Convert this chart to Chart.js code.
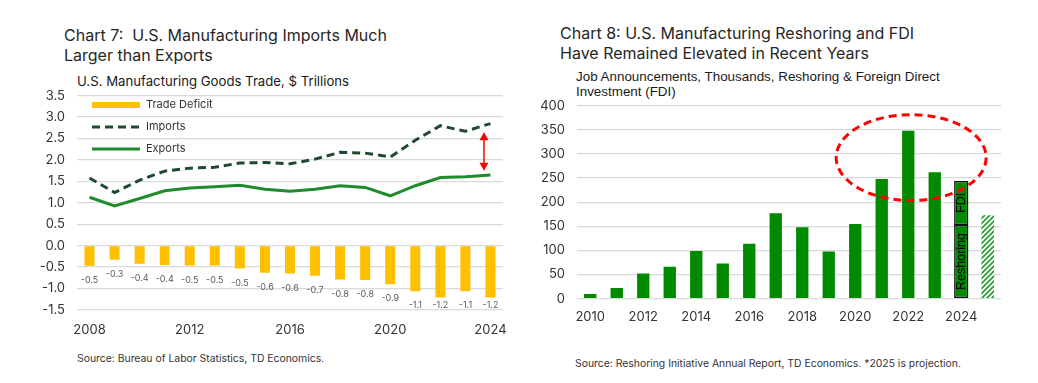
<!DOCTYPE html>
<html><head><meta charset="utf-8">
<script src="https://cdn.jsdelivr.net/npm/chart.js@4.4.1/dist/chart.umd.min.js"></script>
<style>
body{margin:0;background:#fff;width:1038px;height:383px;position:relative;overflow:hidden;font-family:Inter,"Open Sans",sans-serif;color:#222}
.t{position:absolute;font-size:16px;line-height:20px;white-space:nowrap;color:#262626}
.s{position:absolute;font-size:13.2px;white-space:nowrap;color:#1a1a1a}
.src{position:absolute;font-size:10.4px;white-space:nowrap;color:#333}
canvas{position:absolute}
</style></head><body>
<div class="t" style="left:64px;top:25px">Chart 7:&nbsp; U.S. Manufacturing Imports Much<br>Larger than Exports</div>
<div class="s" style="left:77px;top:73px">U.S. Manufacturing Goods Trade, $ Trillions</div>
<div class="src" style="left:77px;top:352px">Source: Bureau of Labor Statistics, TD Economics.</div>
<div class="t" style="left:560px;top:23px">Chart 8: U.S. Manufacturing Reshoring and FDI<br>Have Remained Elevated in Recent Years</div>
<div class="s" style="left:576px;top:69px;font-family:'Liberation Sans',Arial,sans-serif;font-size:13.4px;line-height:15px">Job Announcements, Thousands, Reshoring &amp; Foreign Direct<br>Investment (FDI)</div>
<div class="src" style="left:575px;top:357px">Source: Reshoring Initiative Annual Report, TD Economics. *2025 is projection.</div>
<canvas id="c7" width="520" height="255" style="left:0;top:85px"></canvas>
<canvas id="c8" width="518" height="245" style="left:520px;top:85px"></canvas>
<script>
// ---- Chart 7 data ----
const years7 = ['2008','2009','2010','2011','2012','2013','2014','2015','2016','2017','2018','2019','2020','2021','2022','2023','2024'];
const shownYears7 = ['2008','2012','2016','2020','2024'];
const imports7 = [1.58,1.24,1.53,1.74,1.81,1.83,1.93,1.94,1.91,2.02,2.18,2.16,2.07,2.46,2.80,2.67,2.85];
const exports7 = [1.13,0.93,1.10,1.28,1.345,1.375,1.41,1.315,1.27,1.32,1.40,1.36,1.165,1.40,1.59,1.61,1.65];
const deficit7 = [-0.47,-0.33,-0.42,-0.45,-0.46,-0.46,-0.53,-0.63,-0.65,-0.70,-0.79,-0.80,-0.90,-1.06,-1.21,-1.06,-1.21];
const deficitLabels7 = ['-0.5','-0.3','-0.4','-0.4','-0.5','-0.5','-0.5','-0.6','-0.6','-0.7','-0.8','-0.8','-0.9','-1.1','-1.2','-1.1','-1.2'];
const gapArrow7 = {index: 15.74, from: 1.75, to: 2.65};

// ---- Chart 8 data ----
const years8 = ['2010','2011','2012','2013','2014','2015','2016','2017','2018','2019','2020','2021','2022','2023','2024','2025'];
const shownYears8 = ['2010','2012','2014','2016','2018','2020','2022','2024'];
const jobs8 = [10,22,52,66,99,73,114,177,148,98,155,248,348,262,null,null];
const reshoring8 = [null,null,null,null,null,null,null,null,null,null,null,null,null,null,153,null];
const fdi8 = [null,null,null,null,null,null,null,null,null,null,null,null,null,null,91,null];
const projection8 = [null,null,null,null,null,null,null,null,null,null,null,null,null,null,null,173];
const highlight8 = {index: 12.11, value: 292.5, rIndex: 2.83, rValue: 89};

const TICK_COLOR = '#333';
const GRID = '#d9d9d9';
const FONT = 'Inter';

function fitArea(chart, target){
  for(let k=0;k<4;k++){
    const a = chart.chartArea;
    const p = Object.assign({}, chart.config.options.layout.padding);
    p.top += target.top - a.top;
    p.left += target.left - a.left;
    p.right += a.right - target.right;
    p.bottom += a.bottom - target.bottom;
    chart.config.options.layout.padding = p;
    chart.update();
  }
}

const legend7 = {id:'legend7', afterDraw(chart){
  const c = chart.ctx; const oy = 85;
  c.save();
  c.font = '11px '+FONT; c.textBaseline = 'middle';
  c.fillStyle = '#FFC000'; c.fillRect(92, 102-oy, 48, 6);
  c.fillStyle = '#333'; c.fillText('Trade Deficit', 146, 105-oy);
  c.strokeStyle = '#1f4a2e'; c.lineWidth = 3; c.setLineDash([8,5]);
  c.beginPath(); c.moveTo(92,127-oy); c.lineTo(140,127-oy); c.stroke();
  c.fillText('Imports', 146, 127-oy);
  c.strokeStyle = '#1e8c2c'; c.setLineDash([]);
  c.beginPath(); c.moveTo(92,149-oy); c.lineTo(140,149-oy); c.stroke();
  c.fillText('Exports', 146, 149-oy);
  c.restore();
}};
const barLabels7 = {id:'barLabels7', afterDatasetsDraw(chart){
  const c = chart.ctx; const meta = chart.getDatasetMeta(0);
  c.save(); c.font = '9px '+FONT; c.fillStyle = '#595959'; c.textAlign='center'; c.textBaseline='middle';
  meta.data.forEach((el,i)=>{ c.fillText(deficitLabels7[i], el.x, Math.min(el.y+14.5, chart.chartArea.bottom-5)); });
  c.restore();
}};
const arrow7 = {id:'arrow7', afterDatasetsDraw(chart){
  const c = chart.ctx; const x = chart.scales.x.getPixelForValue(gapArrow7.index);
  const y1 = chart.scales.y.getPixelForValue(gapArrow7.to), y2 = chart.scales.y.getPixelForValue(gapArrow7.from);
  c.save(); c.strokeStyle = '#ff0000'; c.fillStyle = '#ff0000'; c.lineWidth = 1.5;
  c.beginPath(); c.moveTo(x,y1+6); c.lineTo(x,y2-6); c.stroke();
  c.beginPath(); c.moveTo(x,y1); c.lineTo(x-4.5,y1+8); c.lineTo(x+4.5,y1+8); c.closePath(); c.fill();
  c.beginPath(); c.moveTo(x,y2); c.lineTo(x-4.5,y2-8); c.lineTo(x+4.5,y2-8); c.closePath(); c.fill();
  c.restore();
}};

const chart7 = new Chart(document.getElementById('c7'), {
  data: { labels: years7, datasets: [
    {type:'bar', label:'Trade Deficit', data: deficit7, backgroundColor:'#FFC000', barPercentage:0.5, categoryPercentage:0.8, order:3},
    {type:'line', label:'Imports', data: imports7, borderColor:'#1f4a2e', borderWidth:3, borderDash:[8,5], pointRadius:0, fill:false, tension:0, order:1},
    {type:'line', label:'Exports', data: exports7, borderColor:'#1e8c2c', borderWidth:3, pointRadius:0, fill:false, tension:0, order:2}
  ]},
  options: {
    responsive:false, animation:false, devicePixelRatio:1,
    layout:{padding:{top:10.7, right:17, left:0, bottom:0}},
    plugins:{legend:{display:false}, tooltip:{enabled:false}},
    scales:{
      x:{offset:true, grid:{display:false, drawTicks:false}, border:{display:false},
         ticks:{autoSkip:false, maxRotation:0, padding:12, color:TICK_COLOR, font:{family:FONT,size:13},
           callback:function(v){ const l=this.getLabelForValue(v); return shownYears7.includes(l)?l:''; }}},
      y:{min:-1.5, max:3.5, grid:{color:GRID, drawTicks:false, lineWidth:1.3}, border:{display:false},
         ticks:{stepSize:0.5, padding:12, color:TICK_COLOR, font:{family:FONT,size:13}, callback:v=>Number(v).toFixed(1)},
         afterFit:s=>{s.width=77; s.paddingTop=0; s.paddingBottom=0;}}
    }
  },
  plugins:[legend7, barLabels7, arrow7]
});
fitArea(chart7, {top:10.7, bottom:225, left:77, right:503});

function hatch(){
  const cv = document.createElement('canvas'); cv.width = 5; cv.height = 5;
  const x = cv.getContext('2d');
  x.fillStyle='#fff'; x.fillRect(0,0,5,5);
  x.strokeStyle='#2f9e35'; x.lineWidth=1.8;
  x.beginPath(); x.moveTo(-1,6); x.lineTo(6,-1); x.moveTo(-3.5,3.5); x.lineTo(3.5,-3.5); x.moveTo(1.5,8.5); x.lineTo(8.5,1.5); x.stroke();
  return x.createPattern(cv,'repeat');
}
const segLabels8 = {id:'segLabels8', afterDatasetsDraw(chart){
  const c = chart.ctx;
  c.save(); c.font = '12.5px "Liberation Sans", Arial'; c.fillStyle='#000'; c.textAlign='center'; c.textBaseline='middle';
  [[1,'Reshoring'],[2,'FDI']].forEach(([di,txt])=>{
    const el = chart.getDatasetMeta(di).data[14];
    if(!el) return;
    const cy = (el.y + el.base)/2;
    c.save(); c.translate(el.x, cy); c.rotate(-Math.PI/2); c.fillText(txt,0,0); c.restore();
  });
  c.restore();
}};
const ellipse8 = {id:'ellipse8', afterDatasetsDraw(chart){
  const c = chart.ctx, xs = chart.scales.x, ys = chart.scales.y;
  const cx = xs.getPixelForValue(highlight8.index), cy = ys.getPixelForValue(highlight8.value);
  const rx = xs.getPixelForValue(highlight8.index+highlight8.rIndex)-cx;
  const ry = cy - ys.getPixelForValue(highlight8.value+highlight8.rValue);
  c.save(); c.strokeStyle='#ff0000'; c.lineWidth=3; c.setLineDash([8,5]);
  c.beginPath(); c.ellipse(cx,cy,rx,ry,0,0,Math.PI*2); c.stroke(); c.restore();
}};

const chart8 = new Chart(document.getElementById('c8'), {
  type:'bar',
  data:{ labels: years8, datasets:[
    {label:'Jobs', data: jobs8, backgroundColor:'#008a00', barPercentage:0.93, categoryPercentage:0.5},
    {label:'Reshoring', data: reshoring8, backgroundColor:'#008a00', borderColor:'#111', borderWidth:1.5, borderSkipped:false, barPercentage:1.08, categoryPercentage:0.5},
    {label:'FDI', data: fdi8, backgroundColor:'#008a00', borderColor:'#111', borderWidth:1.5, borderSkipped:false, barPercentage:1.08, categoryPercentage:0.5},
    {label:'2025 Projection', data: projection8, backgroundColor: hatch(), barPercentage:0.95, categoryPercentage:0.5}
  ]},
  options:{
    responsive:false, animation:false, devicePixelRatio:1,
    layout:{padding:{top:20.7, right:37, left:0, bottom:0}},
    plugins:{legend:{display:false}, tooltip:{enabled:false}},
    scales:{
      x:{stacked:true, offset:true, grid:{display:false, drawTicks:false}, border:{display:false},
         ticks:{autoSkip:false, maxRotation:0, padding:11, color:TICK_COLOR, font:{family:FONT,size:13},
           callback:function(v){ const l=this.getLabelForValue(v); return shownYears8.includes(l)?l:''; }}},
      y:{stacked:true, min:0, max:400, grid:{color:GRID, drawTicks:false, lineWidth:1.3}, border:{display:false},
         ticks:{stepSize:50, padding:12, color:TICK_COLOR, font:{family:FONT,size:13}},
         afterFit:s=>{s.width=57; s.paddingTop=0; s.paddingBottom=0;}}
    }
  },
  plugins:[segLabels8, ellipse8]
});
fitArea(chart8, {top:20.7, bottom:213.7, left:57, right:481});
</script>
</body></html>
